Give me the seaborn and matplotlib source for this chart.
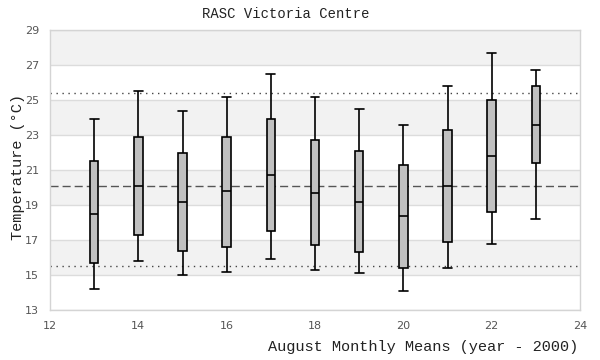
import numpy as np
import pandas as pd
import matplotlib
matplotlib.use("Agg")
import matplotlib.pyplot as plt
import seaborn as sns

sns.set_theme(style="white")

# ------------------------------------------------------------------
# DATA  (August monthly means)
# ------------------------------------------------------------------
years        = [13, 14, 15, 16, 17, 18, 19, 20, 21, 22, 23]
whisker_low  = [14.2, 15.8, 15.0, 15.2, 15.9, 15.3, 15.1, 14.1, 15.4, 16.8, 18.2]
q1           = [15.7, 17.3, 16.4, 16.6, 17.5, 16.7, 16.3, 15.4, 16.9, 18.6, 21.4]
median       = [18.5, 20.1, 19.2, 19.8, 20.7, 19.7, 19.2, 18.4, 20.1, 21.8, 23.6]
q3           = [21.5, 22.9, 22.0, 22.9, 23.9, 22.7, 22.1, 21.3, 23.3, 25.0, 25.8]
whisker_high = [23.9, 25.5, 24.4, 25.2, 26.5, 25.2, 24.5, 23.6, 25.8, 27.7, 26.7]

upper_ref = 25.4   # dotted
mean_ref  = 20.1   # dashed
lower_ref = 15.5   # dotted

y_ticks = [13, 15, 17, 19, 21, 23, 25, 27, 29]
x_ticks = [12, 14, 16, 18, 20, 22, 24]

# five points per year -> quartiles land exactly on q1 / median / q3
df = pd.DataFrame({
    "year": np.repeat(years, 5),
    "temp": np.column_stack([whisker_low, q1, median, q3, whisker_high]).ravel(),
})

# ------------------------------------------------------------------
# PLOT
# ------------------------------------------------------------------
fig = plt.figure(figsize=(6, 3.6), dpi=100)
ax = fig.add_axes([50 / 600, 50 / 360, 530 / 600, 280 / 360])

# alternating bands
for lo in y_ticks[1:-1:2]:
    ax.axhspan(lo, lo + 2, color="#f2f2f2", zorder=0, lw=0)
ax.axhspan(27, 29, color="#f2f2f2", zorder=0, lw=0)
for t in y_ticks:
    ax.axhline(t, color="#dcdcdc", lw=1, zorder=0.5)

ax.axhline(upper_ref, color="#444444", lw=1, ls=(0, (1, 3.3)), zorder=1)
ax.axhline(lower_ref, color="#444444", lw=1, ls=(0, (1, 3.3)), zorder=1)
ax.axhline(mean_ref, color="#555555", lw=1, ls=(0, (5.8, 2.9)), zorder=1)

sns.boxplot(data=df, x="year", y="temp", native_scale=True, whis=np.inf,
            width=0.19, color="#c0c0c0", saturation=1, linecolor="black",
            linewidth=1.2, capwidths=0.2, ax=ax, zorder=3)

ax.set_xlim(12, 24)
ax.set_ylim(13, 29)
ax.set_xticks(x_ticks)
ax.set_yticks(y_ticks)
ax.tick_params(axis="both", length=0, labelsize=8, labelcolor="#555555", pad=8)
for s in ax.spines.values():
    s.set_color("#d4d4d4")
    s.set_linewidth(1)

ax.set_xlabel("")
ax.set_ylabel("")
mono = ["Liberation Mono", "DejaVu Sans Mono"]
fig.text(286 / 600, 1 - 14 / 360, "RASC Victoria Centre", ha="center", va="center",
         family=mono, fontsize=10, color="#222222")
fig.text(578 / 600, 1 - 347 / 360, "August Monthly Means (year - 2000)", ha="right",
         va="center", family=mono, fontsize=11, color="#222222")
fig.text(18 / 600, 1 - 167 / 360, "Temperature (°C)", ha="center", va="center",
         rotation=90, family=mono, fontsize=11, color="#222222")

fig.savefig("out.png", dpi=100)
